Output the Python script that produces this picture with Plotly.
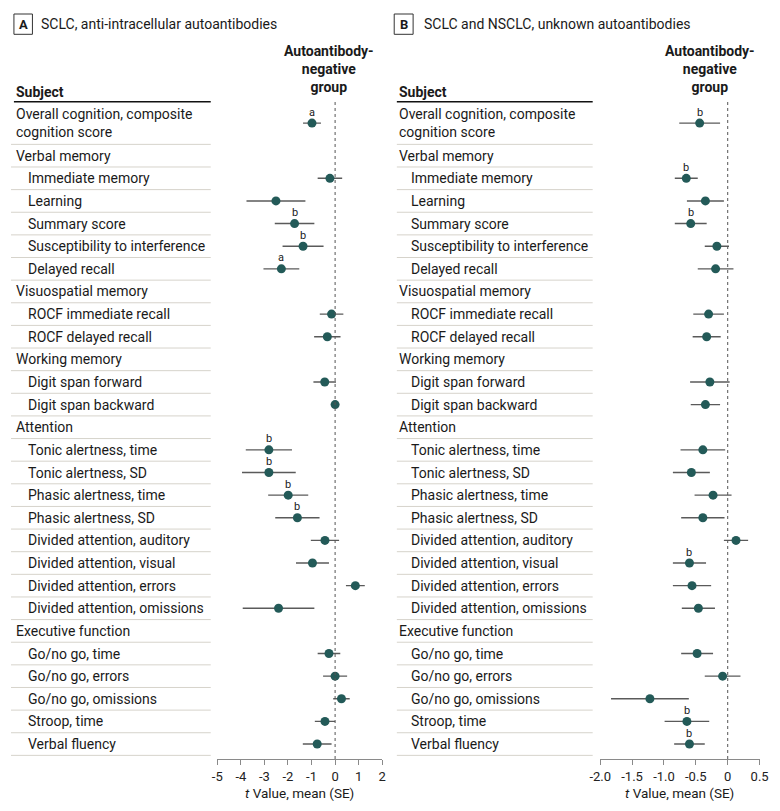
import plotly.graph_objects as go

W, H = 780, 811

# ---------------- data ----------------
subjects = [
    "Overall cognition, composite<br>cognition score",
    "Verbal memory", "Immediate memory", "Learning", "Summary score",
    "Susceptibility to interference", "Delayed recall",
    "Visuospatial memory", "ROCF immediate recall", "ROCF delayed recall",
    "Working memory", "Digit span forward", "Digit span backward",
    "Attention", "Tonic alertness, time", "Tonic alertness, SD",
    "Phasic alertness, time", "Phasic alertness, SD",
    "Divided attention, auditory", "Divided attention, visual",
    "Divided attention, errors", "Divided attention, omissions",
    "Executive function", "Go/no go, time", "Go/no go, errors",
    "Go/no go, omissions", "Stroop, time", "Verbal fluency",
]
# 0 = composite (2 lines), 1 = domain header, 2 = indented test
kind = [0, 1, 2, 2, 2, 2, 2, 1, 2, 2, 1, 2, 2, 1, 2, 2, 2, 2, 2, 2, 2, 2, 1, 2, 2, 2, 2, 2]

a_mean = [-0.98, None, -0.22, -2.51, -1.72, -1.36, -2.28, None, -0.15, -0.33, None, -0.44, 0.00,
          None, -2.81, -2.81, -1.99, -1.60, -0.43, -0.96, 0.86, -2.40, None, -0.26, 0.00, 0.27, -0.43, -0.76]
a_se = [0.38, None, 0.52, 1.25, 0.84, 0.87, 0.76, None, 0.50, 0.56, None, 0.48, 0.05,
        None, 0.98, 1.14, 0.85, 0.94, 0.60, 0.70, 0.40, 1.52, None, 0.48, 0.51, 0.35, 0.43, 0.61]
a_sig = ["a", "", "", "", "b", "b", "a", "", "", "", "", "", "",
         "", "b", "b", "b", "b", "", "", "", "", "", "", "", "", "", ""]

b_mean = [-0.44, None, -0.65, -0.35, -0.58, -0.17, -0.19, None, -0.30, -0.33, None, -0.28, -0.35,
          None, -0.39, -0.57, -0.23, -0.39, 0.13, -0.60, -0.56, -0.46, None, -0.48, -0.08, -1.22, -0.64, -0.60]
b_se = [0.32, None, 0.18, 0.29, 0.25, 0.19, 0.28, None, 0.24, 0.22, None, 0.31, 0.23,
        None, 0.35, 0.29, 0.29, 0.34, 0.19, 0.26, 0.30, 0.26, None, 0.25, 0.28, 0.61, 0.35, 0.24]
b_sig = ["b", "", "b", "", "b", "", "", "", "", "", "", "", "",
         "", "", "", "", "", "", "b", "", "", "", "", "", "", "b", "b"]

a_ticks = [-5, -4, -3, -2, -1, 0, 1, 2]
a_ticktext = ["-5", "-4", "-3", "-2", "-1", "0", "1", "2"]
b_ticks = [-2.0, -1.5, -1.0, -0.5, 0, 0.5]
b_ticktext = ["-2.0", "-1.5", "-1.0", "-0.5", "0", "0.5"]

panel_titles = ["SCLC, anti-intracellular autoantibodies", "SCLC and NSCLC, unknown autoantibodies"]
panel_letters = ["A", "B"]

# ---------------- layout geometry ----------------
FONT = "Roboto"
TXT = "#1a1a1a"
MARK = "#235a58"
SEP = "#d6d3cb"

ROW0 = 99.1       # px of row coordinate 0
ROWH = 22.63      # px per row
AX_Y = 759        # px of axis line


def px_x(p):
    return p / W


def px_y(p):
    return 1 - p / H


# row layout
tops, centers, bottoms = [], [], []
cur = 0.12
for k in kind:
    h = 1.88 if k == 0 else 1.0
    tops.append(cur)
    centers.append(cur + h / 2)
    cur += h
    bottoms.append(cur)

yrange = [(AX_Y - ROW0) / ROWH, 0]
ydom = [px_y(AX_Y), px_y(ROW0)]

panels = [
    dict(mean=a_mean, se=a_se, sig=a_sig, xdom=[px_x(211.7), px_x(381.0)], xr=[-5, 2],
         ticks=a_ticks, tt=a_ticktext, txt_x=3, sep_x=(0, 205), box=(3, 22), title_x=29,
         hdr_x=326, xa="x", ya="y"),
    dict(mean=b_mean, se=b_se, sig=b_sig, xdom=[px_x(604.7), px_x(768.3)], xr=[-2.0, 0.5],
         ticks=b_ticks, tt=b_ticktext, txt_x=396, sep_x=(396, 597), box=(393.3, 412.7), title_x=421.7,
         hdr_x=717, xa="x2", ya="y2"),
]

fig = go.Figure()
annotations = []
shapes = []

for pi, p in enumerate(panels):
    xs = [m for m in p["mean"] if m is not None]
    ses = [s for m, s in zip(p["mean"], p["se"]) if m is not None]
    ys = [c for m, c in zip(p["mean"], centers) if m is not None]
    fig.add_trace(go.Scatter(
        x=xs, y=ys, mode="markers", xaxis=p["xa"], yaxis=p["ya"],
        marker=dict(color=MARK, size=9, line=dict(width=0)),
        error_x=dict(type="data", array=ses, symmetric=True, thickness=1.4, width=0, color="#5a5a5a"),
        hoverinfo="skip", showlegend=False, cliponaxis=False,
    ))
    # significance letters
    for m, c, s in zip(p["mean"], centers, p["sig"]):
        if m is not None and s:
            annotations.append(dict(x=m, y=c, xref=p["xa"], yref=p["ya"], text=s, showarrow=False,
                                    yshift=11, font=dict(family=FONT, size=11, color=TXT)))
    # labels and separators
    for lab, k, c, b in zip(subjects, kind, centers, bottoms):
        x0 = p["txt_x"] + (12 if k == 2 else 0)
        annotations.append(dict(x=px_x(x0), y=c, xref="paper", yref=p["ya"], text=lab, showarrow=False,
                                xanchor="left", yanchor="middle", align="left",
                                font=dict(family=FONT, size=14, color=TXT)))
        shapes.append(dict(type="line", xref="paper", yref=p["ya"], x0=px_x(p["sep_x"][0]),
                           x1=px_x(p["sep_x"][1]), y0=b, y1=b, line=dict(color=SEP, width=1)))
    # Subject header
    annotations.append(dict(x=px_x(p["txt_x"]), y=px_y(92), xref="paper", yref="paper", text="<b>Subject</b>",
                            showarrow=False, xanchor="left", yanchor="middle",
                            font=dict(family=FONT, size=14, color=TXT)))
    shapes.append(dict(type="line", xref="paper", yref="paper", x0=px_x(p["sep_x"][0] + (3 if pi == 0 else 0)),
                       x1=px_x(p["sep_x"][1]), y0=px_y(101.7), y1=px_y(101.7),
                       line=dict(color="#111", width=1.5)))
    # reference group header
    annotations.append(dict(x=px_x(p["hdr_x"]), y=px_y(97), xref="paper", yref="paper",
                            text="<b>Autoantibody-<br>negative<br>group</b>", showarrow=False,
                            xanchor="center", yanchor="bottom", align="center",
                            font=dict(family=FONT, size=14, color=TXT)))
    # dotted zero line
    shapes.append(dict(type="line", xref=p["xa"], yref="paper", x0=0, x1=0, y0=px_y(AX_Y), y1=px_y(100),
                       line=dict(color="#555", width=1, dash="dot")))
    # panel letter box + title
    shapes.append(dict(type="rect", xref="paper", yref="paper", x0=px_x(p["box"][0]), x1=px_x(p["box"][1]),
                       y0=px_y(34.3), y1=px_y(14), line=dict(color="#333", width=1)))
    annotations.append(dict(x=px_x((p["box"][0] + p["box"][1]) / 2), y=px_y(24.3), xref="paper", yref="paper",
                            text="<b>" + panel_letters[pi] + "</b>", showarrow=False,
                            xanchor="center", yanchor="middle", font=dict(family=FONT, size=13, color=TXT)))
    annotations.append(dict(x=px_x(p["title_x"]), y=px_y(24.3), xref="paper", yref="paper",
                            text=panel_titles[pi], showarrow=False, xanchor="left", yanchor="middle",
                            font=dict(family=FONT, size=14, color=TXT)))
    # axis title
    annotations.append(dict(x=(p["xdom"][0] + p["xdom"][1]) / 2, y=px_y(793), xref="paper", yref="paper",
                            text="<i>t</i> Value, mean (SE)", showarrow=False, xanchor="center",
                            yanchor="middle", font=dict(family=FONT, size=13.5, color=TXT)))

axis_common = dict(showgrid=False, zeroline=False, showline=True, linecolor="#8a8a8a", linewidth=1,
                   ticks="outside", ticklen=5, tickcolor="#8a8a8a", tickwidth=1,
                   tickfont=dict(family=FONT, size=13, color="#222"), fixedrange=True)
yaxis_common = dict(range=yrange, domain=ydom, visible=False, fixedrange=True)

fig.update_layout(
    width=W, height=H, margin=dict(l=0, r=0, t=0, b=0),
    paper_bgcolor="white", plot_bgcolor="white",
    xaxis=dict(domain=panels[0]["xdom"], range=panels[0]["xr"], tickvals=panels[0]["ticks"],
               ticktext=panels[0]["tt"], anchor="y", **axis_common),
    yaxis=dict(anchor="x", **yaxis_common),
    xaxis2=dict(domain=panels[1]["xdom"], range=panels[1]["xr"], tickvals=panels[1]["ticks"],
                ticktext=panels[1]["tt"], anchor="y2", **axis_common),
    yaxis2=dict(anchor="x2", **yaxis_common),
    annotations=annotations, shapes=shapes,
    font=dict(family=FONT, color=TXT),
)

fig.write_html("out.html", config={"displayModeBar": False},
               post_script="document.body.style.margin='0';document.body.style.overflow='hidden';")
